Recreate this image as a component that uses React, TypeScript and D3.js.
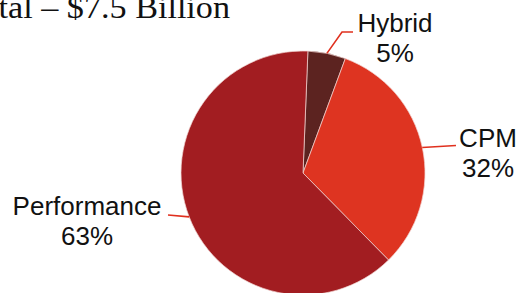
import React from 'react';
import * as d3 from 'd3';

const categories = ['Hybrid', 'CPM', 'Performance'];
const shares = [5, 32, 63];
const shareLabels = ['5%', '32%', '63%'];
const title = 'Total – $7.5 Billion';

const colors = ['#5C2320', '#DE3421', '#A21D21'];

// label layout: text centre x, first baseline y, leader path points after the arc edge
const labelLayout = [
  { x: 395, y: 32, leader: [[342, 32], [353, 32]] },
  { x: 488, y: 147, leader: [[456, 145.5]] },
  { x: 87, y: 215, leader: [[168, 215]] },
];

const W = 520;
const H = 293;

export default function App() {
  const cx = 303;
  const cy = 173;
  const r = 122;
  const start = (2.3 * Math.PI) / 180;

  const pie = d3
    .pie<number>()
    .sort(null)
    .value((d) => d)
    .startAngle(start)
    .endAngle(start + Math.PI * 2);
  const arcs = pie(shares);
  const arc = d3.arc<d3.PieArcDatum<number>>().innerRadius(0).outerRadius(r);

  return (
    <svg
      width={W}
      height={H}
      style={{ position: 'absolute', left: 0, top: 0, background: '#fff' }}
    >
      <text
        x={-37}
        y={18}
        textLength={267}
        lengthAdjust="spacingAndGlyphs"
        fontFamily="'Liberation Serif', 'Times New Roman', serif"
        fontSize={32}
        fill="#111"
      >
        {title}
      </text>
      <g transform={`translate(${cx},${cy})`}>
        {arcs.map((a, i) => (
          <path
            key={categories[i]}
            d={arc(a) || ''}
            fill={colors[i]}
            stroke="#f2d6d2"
            strokeWidth={0.7}
          />
        ))}
      </g>
      {arcs.map((a, i) => {
        const mid = (a.startAngle + a.endAngle) / 2;
        const sx = cx + r * Math.sin(mid);
        const sy = cy - r * Math.cos(mid);
        const pts: [number, number][] = [[sx, sy], ...(labelLayout[i].leader as [number, number][])];
        const line = d3.line()(pts) || '';
        return <path key={'l' + i} d={line} fill="none" stroke="#E0301E" strokeWidth={1.6} />;
      })}
      {categories.map((c, i) => (
        <text
          key={'t' + c}
          x={labelLayout[i].x}
          y={labelLayout[i].y}
          textAnchor="middle"
          fontFamily="'Liberation Sans', Arial, sans-serif"
          fontSize={26}
          fill="#111"
        >
          <tspan x={labelLayout[i].x}>{c}</tspan>
          <tspan x={labelLayout[i].x} dy={30}>
            {shareLabels[i]}
          </tspan>
        </text>
      ))}
    </svg>
  );
}
